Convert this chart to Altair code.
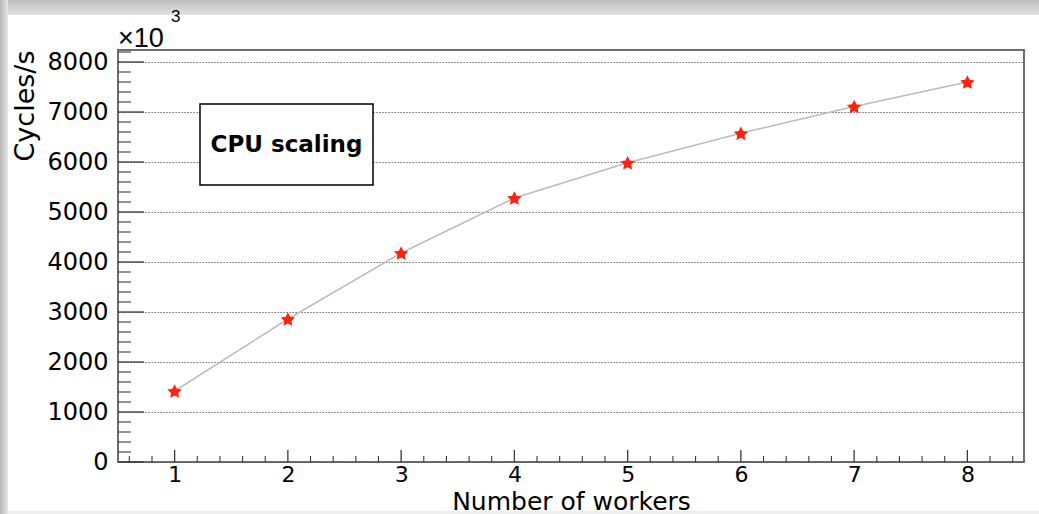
import math
import altair as alt
import pandas as pd

# Throughput measured for each number of workers (cycles per second)
workers = [1, 2, 3, 4, 5, 6, 7, 8]
cycles = [1420, 2860, 4180, 5280, 5985, 6575, 7110, 7600]

# Tick positions for the inward-pointing axis ticks
x_major = [1, 2, 3, 4, 5, 6, 7, 8]
x_minor = [round(0.6 + 0.2 * i, 1) for i in range(40) if abs((0.6 + 0.2 * i) - round(0.6 + 0.2 * i)) > 1e-6]
y_major = [0, 1000, 2000, 3000, 4000, 5000, 6000, 7000, 8000]
y_minor = [v for v in range(0, 8201, 200) if v % 1000 != 0]

W, H = 906, 412
FONT = "DejaVu Sans"

df = pd.DataFrame({"workers": workers, "cycles": cycles})

xscale = alt.Scale(domain=[0.5, 8.5], nice=False, zero=False)
yscale = alt.Scale(domain=[0, 8240], nice=False, zero=False)

x_axis = alt.Axis(
    values=x_major, grid=False, ticks=False, domain=False,
    labelFont=FONT, labelFontSize=22, labelColor="#000", labelPadding=2,
    labelBaseline="top", format="d",
    title="Number of workers", titleFont=FONT, titleFontSize=25,
    titleFontWeight="normal", titleColor="#000",
    titleX=W / 2, titleY=47, titleBaseline="alphabetic", titleAlign="center",
)
y_axis = alt.Axis(
    values=y_major, grid=True, gridDash=[1.2, 1.8], gridColor="#4a4a4a",
    gridWidth=1, ticks=False, domain=False,
    labelFont=FONT, labelFontSize=24, labelColor="#000", labelPadding=10,
    format="d",
    title="Cycles/s", titleFont=FONT, titleFontSize=27,
    titleFontWeight="normal", titleColor="#000",
    titleAngle=270, titleAlign="right", titleBaseline="alphabetic",
    titleX=-85, titleY=0,
)


def star_path(outer=1.0, inner=0.5, shift=0.095):
    pts = []
    for k in range(10):
        r = outer if k % 2 == 0 else inner
        a = math.radians(-90 + 36 * k)
        pts.append((r * math.cos(a), r * math.sin(a) + shift))
    return "M" + "L".join(f"{x:.3f},{y:.3f}" for x, y in pts) + "Z"


one = alt.Data(values=[{}])

# soft window-edge shading around the canvas
top_band = alt.Chart(one).mark_rect(
    fill=alt.Gradient(
        gradient="linear", x1=0, y1=0, x2=0, y2=1,
        stops=[alt.GradientStop(color="#bdbdbd", offset=0),
               alt.GradientStop(color="#e2e2e2", offset=1)],
    )
).encode(x=alt.value(-118), x2=alt.value(921), y=alt.value(-50), y2=alt.value(-35))

left_band = alt.Chart(one).mark_rect(
    fill=alt.Gradient(
        gradient="linear", x1=0, y1=0, x2=1, y2=0,
        stops=[alt.GradientStop(color="#b5b5b5", offset=0),
               alt.GradientStop(color="#e6e6e6", offset=1)],
    )
).encode(x=alt.value(-118), x2=alt.value(-110), y=alt.value(-50), y2=alt.value(464))

bottom_line = alt.Chart(one).mark_rect(fill="#eeeeee").encode(
    x=alt.value(-110), x2=alt.value(921), y=alt.value(461), y2=alt.value(464)
)

line = alt.Chart(df).mark_line(color="#bcbcbc", strokeWidth=1.5).encode(
    x=alt.X("workers:Q", scale=xscale, axis=x_axis),
    y=alt.Y("cycles:Q", scale=yscale, axis=y_axis),
)

tick_color = "#3a3a3a"
xt_major = alt.Chart(pd.DataFrame({"workers": x_major})).mark_rule(color=tick_color, strokeWidth=1.3).encode(
    x=alt.X("workers:Q", scale=xscale, axis=x_axis), y=alt.value(H), y2=alt.value(H - 12)
)
xt_minor = alt.Chart(pd.DataFrame({"workers": x_minor})).mark_rule(color=tick_color, strokeWidth=1.1).encode(
    x=alt.X("workers:Q", scale=xscale, axis=x_axis), y=alt.value(H), y2=alt.value(H - 6)
)
yt_major = alt.Chart(pd.DataFrame({"cycles": y_major})).mark_rule(color=tick_color, strokeWidth=1.3).encode(
    y=alt.Y("cycles:Q", scale=yscale, axis=y_axis), x=alt.value(0), x2=alt.value(26)
)
yt_minor = alt.Chart(pd.DataFrame({"cycles": y_minor})).mark_rule(color=tick_color, strokeWidth=1.1).encode(
    y=alt.Y("cycles:Q", scale=yscale, axis=y_axis), x=alt.value(0), x2=alt.value(13)
)

points = alt.Chart(df).mark_point(
    shape=star_path(), filled=True, color="#ff2211", size=230, opacity=1
).encode(
    x=alt.X("workers:Q", scale=xscale, axis=x_axis),
    y=alt.Y("cycles:Q", scale=yscale, axis=y_axis),
)

box = alt.Chart(one).mark_rect(fill="white", stroke="#000", strokeWidth=1.5).encode(
    x=alt.value(82), x2=alt.value(255), y=alt.value(54), y2=alt.value(135)
)
box_text = alt.Chart(one).mark_text(
    text="CPU scaling", font=FONT, fontSize=23, fontWeight="bold", color="#000",
    align="center", baseline="middle",
).encode(x=alt.value(168.5), y=alt.value(95))

exp_base = alt.Chart(one).mark_text(
    text="×10", font="Liberation Sans", fontSize=27, color="#000",
    align="left", baseline="alphabetic",
).encode(x=alt.value(0), y=alt.value(-3))
exp_pow = alt.Chart(one).mark_text(
    text="3", font="Liberation Sans", fontSize=17, color="#000",
    align="left", baseline="alphabetic",
).encode(x=alt.value(53), y=alt.value(-28))

chart = alt.layer(
    line, top_band, left_band, bottom_line,
    xt_minor, xt_major, yt_minor, yt_major, points,
    box, box_text, exp_base, exp_pow,
).properties(
    width=W, height=H,
    autosize=alt.AutoSizeParams(type="none"),
    padding={"left": 118, "top": 50, "right": 15, "bottom": 52},
    background="white",
).configure_view(
    stroke="#6f6f6f", strokeWidth=2
)

chart.save("out.html", embed_options={"renderer": "svg", "actions": False})
